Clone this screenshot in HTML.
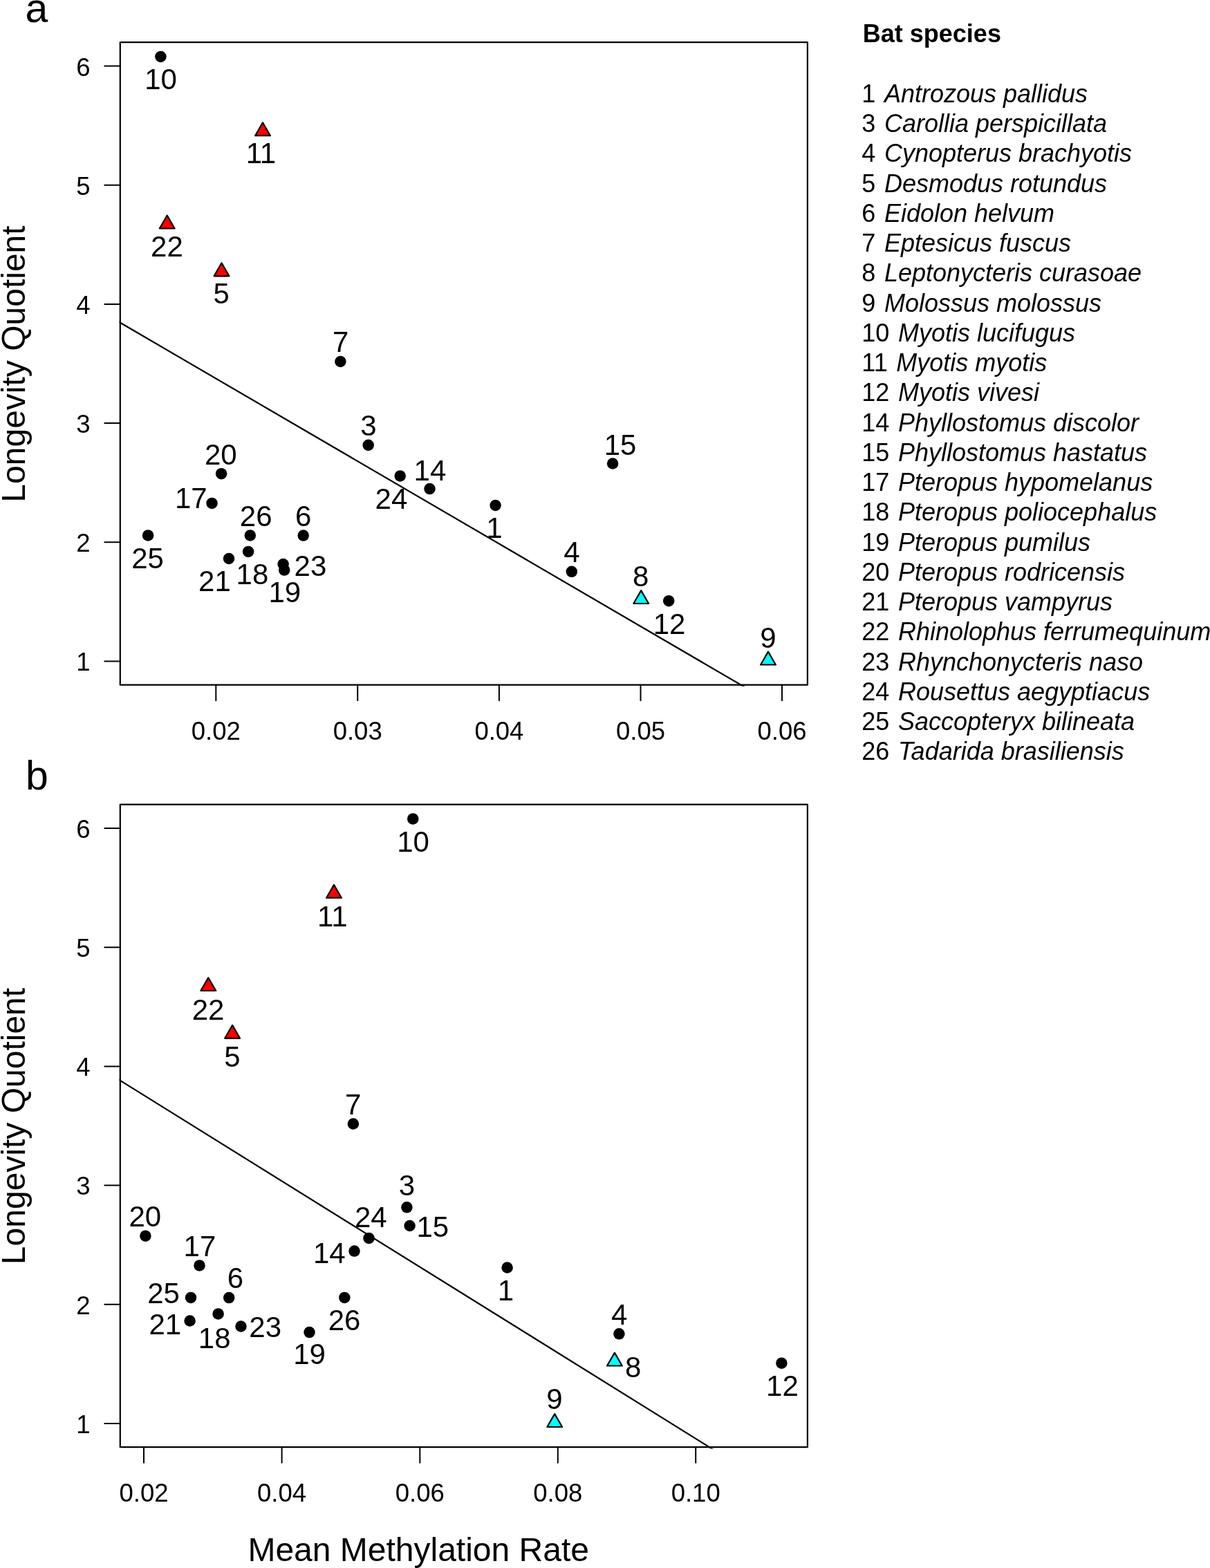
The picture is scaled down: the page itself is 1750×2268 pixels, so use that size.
<!DOCTYPE html>
<html><head><meta charset="utf-8"><title>Bat longevity vs methylation rate</title><style>html,body{margin:0;padding:0;background:#fff;}body{width:1750px;height:2268px;overflow:hidden;}svg{display:block;}</style></head><body>
<svg width="1750" height="2268" viewBox="0 0 1750 2268" font-family="'Liberation Sans', Arial, Helvetica, sans-serif" fill="#000">
<rect width="1750" height="2268" fill="#fff"/>
<clipPath id="clip0"><rect x="172.6" y="60" width="996.5" height="932.7"/></clipPath>
<line x1="168.8" y1="463.77" x2="1083.7" y2="997.7" stroke="#000" stroke-width="2.2" clip-path="url(#clip0)"/>
<rect x="173.8" y="61.2" width="994.1" height="929.5" fill="none" stroke="#000" stroke-width="2.2" stroke-linejoin="round"/>
<line x1="151.3" y1="956.4" x2="173.8" y2="956.4" stroke="#000" stroke-width="2.0" stroke-linecap="round"/>
<text x="130.6" y="970.3" text-anchor="end" font-size="36.5">1</text>
<line x1="151.3" y1="784.24" x2="173.8" y2="784.24" stroke="#000" stroke-width="2.0" stroke-linecap="round"/>
<text x="130.6" y="798.14" text-anchor="end" font-size="36.5">2</text>
<line x1="151.3" y1="612.08" x2="173.8" y2="612.08" stroke="#000" stroke-width="2.0" stroke-linecap="round"/>
<text x="130.6" y="625.98" text-anchor="end" font-size="36.5">3</text>
<line x1="151.3" y1="439.92" x2="173.8" y2="439.92" stroke="#000" stroke-width="2.0" stroke-linecap="round"/>
<text x="130.6" y="453.82" text-anchor="end" font-size="36.5">4</text>
<line x1="151.3" y1="267.76" x2="173.8" y2="267.76" stroke="#000" stroke-width="2.0" stroke-linecap="round"/>
<text x="130.6" y="281.66" text-anchor="end" font-size="36.5">5</text>
<line x1="151.3" y1="95.6" x2="173.8" y2="95.6" stroke="#000" stroke-width="2.0" stroke-linecap="round"/>
<text x="130.6" y="109.5" text-anchor="end" font-size="36.5">6</text>
<line x1="312.3" y1="990.7" x2="312.3" y2="1013.2" stroke="#000" stroke-width="2.0" stroke-linecap="round"/>
<text x="312.3" y="1069.5" text-anchor="middle" font-size="36.5">0.02</text>
<line x1="517.2" y1="990.7" x2="517.2" y2="1013.2" stroke="#000" stroke-width="2.0" stroke-linecap="round"/>
<text x="517.2" y="1069.5" text-anchor="middle" font-size="36.5">0.03</text>
<line x1="721.9" y1="990.7" x2="721.9" y2="1013.2" stroke="#000" stroke-width="2.0" stroke-linecap="round"/>
<text x="721.9" y="1069.5" text-anchor="middle" font-size="36.5">0.04</text>
<line x1="926.5" y1="990.7" x2="926.5" y2="1013.2" stroke="#000" stroke-width="2.0" stroke-linecap="round"/>
<text x="926.5" y="1069.5" text-anchor="middle" font-size="36.5">0.05</text>
<line x1="1131" y1="990.7" x2="1131" y2="1013.2" stroke="#000" stroke-width="2.0" stroke-linecap="round"/>
<text x="1131" y="1069.5" text-anchor="middle" font-size="36.5">0.06</text>
<circle cx="232.4" cy="81.9" r="8.25"/>
<polygon points="380,177.3 390.91,196.2 369.09,196.2" fill="#ff0000" stroke="#000" stroke-width="2.2" stroke-linejoin="round"/>
<polygon points="241.7,311.6 252.61,330.5 230.79,330.5" fill="#ff0000" stroke="#000" stroke-width="2.2" stroke-linejoin="round"/>
<polygon points="320.5,380.4 331.41,399.3 309.59,399.3" fill="#ff0000" stroke="#000" stroke-width="2.2" stroke-linejoin="round"/>
<circle cx="492.4" cy="523" r="8.25"/>
<circle cx="532.7" cy="643.8" r="8.25"/>
<circle cx="578.7" cy="688.4" r="8.25"/>
<circle cx="621.5" cy="707.1" r="8.25"/>
<circle cx="886.1" cy="670.5" r="8.25"/>
<circle cx="320.1" cy="685.2" r="8.25"/>
<circle cx="306.5" cy="727.9" r="8.25"/>
<circle cx="716.6" cy="731" r="8.25"/>
<circle cx="361.8" cy="774.4" r="8.25"/>
<circle cx="438.7" cy="774.6" r="8.25"/>
<circle cx="214.1" cy="774.4" r="8.25"/>
<circle cx="359.1" cy="797.9" r="8.25"/>
<circle cx="331" cy="808" r="8.25"/>
<circle cx="409.6" cy="816" r="8.25"/>
<circle cx="411.2" cy="824.6" r="8.25"/>
<circle cx="826.8" cy="826.8" r="8.25"/>
<polygon points="927.2,854.1 938.11,873 916.29,873" fill="#00ffff" stroke="#000" stroke-width="2.2" stroke-linejoin="round"/>
<circle cx="967.2" cy="869.2" r="8.25"/>
<polygon points="1111,942.6 1121.91,961.5 1100.09,961.5" fill="#00ffff" stroke="#000" stroke-width="2.2" stroke-linejoin="round"/>
<text x="232.62" y="128.8" text-anchor="middle" font-size="42.0">10</text>
<text x="377.43" y="236.2" text-anchor="middle" font-size="42.0">11</text>
<text x="241.4" y="371.1" text-anchor="middle" font-size="42.0">22</text>
<text x="320.24" y="439.2" text-anchor="middle" font-size="42.0">5</text>
<text x="492.58" y="509.3" text-anchor="middle" font-size="42.0">7</text>
<text x="532.82" y="629.8" text-anchor="middle" font-size="42.0">3</text>
<text x="565.96" y="735.5" text-anchor="middle" font-size="42.0">24</text>
<text x="621.92" y="694.6" text-anchor="middle" font-size="42.0">14</text>
<text x="714.93" y="778.1" text-anchor="middle" font-size="42.0">1</text>
<text x="897.08" y="657.7" text-anchor="middle" font-size="42.0">15</text>
<text x="319.36" y="672.2" text-anchor="middle" font-size="42.0">20</text>
<text x="276.26" y="735" text-anchor="middle" font-size="42.0">17</text>
<text x="370.17" y="761.2" text-anchor="middle" font-size="42.0">26</text>
<text x="438.66" y="761.2" text-anchor="middle" font-size="42.0">6</text>
<text x="213.53" y="822.3" text-anchor="middle" font-size="42.0">25</text>
<text x="364.91" y="844.5" text-anchor="middle" font-size="42.0">18</text>
<text x="310.47" y="854.7" text-anchor="middle" font-size="42.0">21</text>
<text x="448.97" y="832.5" text-anchor="middle" font-size="42.0">23</text>
<text x="411.8" y="871.2" text-anchor="middle" font-size="42.0">19</text>
<text x="826.93" y="812.9" text-anchor="middle" font-size="42.0">4</text>
<text x="926.7" y="847.9" text-anchor="middle" font-size="42.0">8</text>
<text x="968.06" y="916.9" text-anchor="middle" font-size="42.0">12</text>
<text x="1110.91" y="937" text-anchor="middle" font-size="42.0">9</text>
<clipPath id="clip1102"><rect x="172.6" y="1162.5" width="996.5" height="932.9"/></clipPath>
<line x1="168.8" y1="1559.76" x2="1037.57" y2="2100.4" stroke="#000" stroke-width="2.2" clip-path="url(#clip1102)"/>
<rect x="173.8" y="1163.7" width="994.1" height="929.5" fill="none" stroke="#000" stroke-width="2.2" stroke-linejoin="round"/>
<line x1="151.3" y1="2058.9" x2="173.8" y2="2058.9" stroke="#000" stroke-width="2.0" stroke-linecap="round"/>
<text x="130.6" y="2072.8" text-anchor="end" font-size="36.5">1</text>
<line x1="151.3" y1="1886.74" x2="173.8" y2="1886.74" stroke="#000" stroke-width="2.0" stroke-linecap="round"/>
<text x="130.6" y="1900.64" text-anchor="end" font-size="36.5">2</text>
<line x1="151.3" y1="1714.58" x2="173.8" y2="1714.58" stroke="#000" stroke-width="2.0" stroke-linecap="round"/>
<text x="130.6" y="1728.48" text-anchor="end" font-size="36.5">3</text>
<line x1="151.3" y1="1542.42" x2="173.8" y2="1542.42" stroke="#000" stroke-width="2.0" stroke-linecap="round"/>
<text x="130.6" y="1556.32" text-anchor="end" font-size="36.5">4</text>
<line x1="151.3" y1="1370.26" x2="173.8" y2="1370.26" stroke="#000" stroke-width="2.0" stroke-linecap="round"/>
<text x="130.6" y="1384.16" text-anchor="end" font-size="36.5">5</text>
<line x1="151.3" y1="1198.1" x2="173.8" y2="1198.1" stroke="#000" stroke-width="2.0" stroke-linecap="round"/>
<text x="130.6" y="1212" text-anchor="end" font-size="36.5">6</text>
<line x1="208" y1="2093.2" x2="208" y2="2115.7" stroke="#000" stroke-width="2.0" stroke-linecap="round"/>
<text x="208" y="2172" text-anchor="middle" font-size="36.5">0.02</text>
<line x1="407.6" y1="2093.2" x2="407.6" y2="2115.7" stroke="#000" stroke-width="2.0" stroke-linecap="round"/>
<text x="407.6" y="2172" text-anchor="middle" font-size="36.5">0.04</text>
<line x1="607.3" y1="2093.2" x2="607.3" y2="2115.7" stroke="#000" stroke-width="2.0" stroke-linecap="round"/>
<text x="607.3" y="2172" text-anchor="middle" font-size="36.5">0.06</text>
<line x1="806.8" y1="2093.2" x2="806.8" y2="2115.7" stroke="#000" stroke-width="2.0" stroke-linecap="round"/>
<text x="806.8" y="2172" text-anchor="middle" font-size="36.5">0.08</text>
<line x1="1006.2" y1="2093.2" x2="1006.2" y2="2115.7" stroke="#000" stroke-width="2.0" stroke-linecap="round"/>
<text x="1006.2" y="2172" text-anchor="middle" font-size="36.5">0.10</text>
<circle cx="597.2" cy="1184.4" r="8.25"/>
<polygon points="483,1279.8 493.91,1298.7 472.09,1298.7" fill="#ff0000" stroke="#000" stroke-width="2.2" stroke-linejoin="round"/>
<polygon points="301.3,1414.1 312.21,1433 290.39,1433" fill="#ff0000" stroke="#000" stroke-width="2.2" stroke-linejoin="round"/>
<polygon points="336.1,1482.9 347.01,1501.8 325.19,1501.8" fill="#ff0000" stroke="#000" stroke-width="2.2" stroke-linejoin="round"/>
<circle cx="510.9" cy="1625.5" r="8.25"/>
<circle cx="588.4" cy="1746.3" r="8.25"/>
<circle cx="533.5" cy="1790.9" r="8.25"/>
<circle cx="512.5" cy="1809.6" r="8.25"/>
<circle cx="592.6" cy="1773" r="8.25"/>
<circle cx="210.4" cy="1787.7" r="8.25"/>
<circle cx="288.5" cy="1830.4" r="8.25"/>
<circle cx="733.6" cy="1833.5" r="8.25"/>
<circle cx="498.3" cy="1876.9" r="8.25"/>
<circle cx="331.2" cy="1877.1" r="8.25"/>
<circle cx="276" cy="1876.9" r="8.25"/>
<circle cx="315.6" cy="1900.4" r="8.25"/>
<circle cx="274.6" cy="1910.5" r="8.25"/>
<circle cx="348.5" cy="1918.5" r="8.25"/>
<circle cx="447.5" cy="1927.1" r="8.25"/>
<circle cx="895.4" cy="1929.3" r="8.25"/>
<polygon points="888.9,1956.6 899.81,1975.5 877.99,1975.5" fill="#00ffff" stroke="#000" stroke-width="2.2" stroke-linejoin="round"/>
<circle cx="1130.4" cy="1971.7" r="8.25"/>
<polygon points="802.2,2045.1 813.11,2064 791.29,2064" fill="#00ffff" stroke="#000" stroke-width="2.2" stroke-linejoin="round"/>
<text x="597.52" y="1232.2" text-anchor="middle" font-size="42.0">10</text>
<text x="480.83" y="1339.8" text-anchor="middle" font-size="42.0">11</text>
<text x="301" y="1474.5" text-anchor="middle" font-size="42.0">22</text>
<text x="335.94" y="1543" text-anchor="middle" font-size="42.0">5</text>
<text x="510.68" y="1612" text-anchor="middle" font-size="42.0">7</text>
<text x="588.42" y="1729.1" text-anchor="middle" font-size="42.0">3</text>
<text x="625.78" y="1788.5" text-anchor="middle" font-size="42.0">15</text>
<text x="536.36" y="1775.2" text-anchor="middle" font-size="42.0">24</text>
<text x="476.32" y="1826.8" text-anchor="middle" font-size="42.0">14</text>
<text x="209.76" y="1773.8" text-anchor="middle" font-size="42.0">20</text>
<text x="288.96" y="1817" text-anchor="middle" font-size="42.0">17</text>
<text x="236.53" y="1884.5" text-anchor="middle" font-size="42.0">25</text>
<text x="340.46" y="1863" text-anchor="middle" font-size="42.0">6</text>
<text x="498.07" y="1923.5" text-anchor="middle" font-size="42.0">26</text>
<text x="310.21" y="1950.3" text-anchor="middle" font-size="42.0">18</text>
<text x="238.77" y="1930" text-anchor="middle" font-size="42.0">21</text>
<text x="383.67" y="1933.6" text-anchor="middle" font-size="42.0">23</text>
<text x="447.5" y="1973.2" text-anchor="middle" font-size="42.0">19</text>
<text x="731.53" y="1881" text-anchor="middle" font-size="42.0">1</text>
<text x="895.73" y="1916.2" text-anchor="middle" font-size="42.0">4</text>
<text x="915.6" y="1991.6" text-anchor="middle" font-size="42.0">8</text>
<text x="801.91" y="2038" text-anchor="middle" font-size="42.0">9</text>
<text x="1131.46" y="2018.8" text-anchor="middle" font-size="42.0">12</text>
<text x="36.5" y="32.3" font-size="59.0">a</text>
<text x="37.0" y="1141.5" font-size="59.0">b</text>
<text x="605.2" y="2258.3" text-anchor="middle" font-size="48.0">Mean Methylation Rate</text>
<text transform="translate(35.9 526.5) rotate(-90)" x="0" y="0" text-anchor="middle" font-size="48.0">Longevity Quotient</text>
<text transform="translate(35.9 1629) rotate(-90)" x="0" y="0" text-anchor="middle" font-size="48.0">Longevity Quotient</text>
<text x="1247.8" y="61.4" font-size="36.0" font-weight="bold">Bat species</text>
<text x="1246.3" y="147.9" font-size="36.0">1 <tspan dx="2.6" font-style="italic">Antrozous pallidus</tspan></text>
<text x="1246.3" y="191.15" font-size="36.0">3 <tspan dx="2.6" font-style="italic">Carollia perspicillata</tspan></text>
<text x="1246.3" y="234.4" font-size="36.0">4 <tspan dx="2.6" font-style="italic">Cynopterus brachyotis</tspan></text>
<text x="1246.3" y="277.65" font-size="36.0">5 <tspan dx="2.6" font-style="italic">Desmodus rotundus</tspan></text>
<text x="1246.3" y="320.9" font-size="36.0">6 <tspan dx="2.6" font-style="italic">Eidolon helvum</tspan></text>
<text x="1246.3" y="364.15" font-size="36.0">7 <tspan dx="2.6" font-style="italic">Eptesicus fuscus</tspan></text>
<text x="1246.3" y="407.4" font-size="36.0">8 <tspan dx="2.6" font-style="italic">Leptonycteris curasoae</tspan></text>
<text x="1246.3" y="450.65" font-size="36.0">9 <tspan dx="2.6" font-style="italic">Molossus molossus</tspan></text>
<text x="1246.3" y="493.9" font-size="36.0">10 <tspan dx="2.6" font-style="italic">Myotis lucifugus</tspan></text>
<text x="1246.3" y="537.15" font-size="36.0">11 <tspan dx="2.6" font-style="italic">Myotis myotis</tspan></text>
<text x="1246.3" y="580.4" font-size="36.0">12 <tspan dx="2.6" font-style="italic">Myotis vivesi</tspan></text>
<text x="1246.3" y="623.65" font-size="36.0">14 <tspan dx="2.6" font-style="italic">Phyllostomus discolor</tspan></text>
<text x="1246.3" y="666.9" font-size="36.0">15 <tspan dx="2.6" font-style="italic">Phyllostomus hastatus</tspan></text>
<text x="1246.3" y="710.15" font-size="36.0">17 <tspan dx="2.6" font-style="italic">Pteropus hypomelanus</tspan></text>
<text x="1246.3" y="753.4" font-size="36.0">18 <tspan dx="2.6" font-style="italic">Pteropus poliocephalus</tspan></text>
<text x="1246.3" y="796.65" font-size="36.0">19 <tspan dx="2.6" font-style="italic">Pteropus pumilus</tspan></text>
<text x="1246.3" y="839.9" font-size="36.0">20 <tspan dx="2.6" font-style="italic">Pteropus rodricensis</tspan></text>
<text x="1246.3" y="883.15" font-size="36.0">21 <tspan dx="2.6" font-style="italic">Pteropus vampyrus</tspan></text>
<text x="1246.3" y="926.4" font-size="36.0">22 <tspan dx="2.6" font-style="italic">Rhinolophus ferrumequinum</tspan></text>
<text x="1246.3" y="969.65" font-size="36.0">23 <tspan dx="2.6" font-style="italic">Rhynchonycteris naso</tspan></text>
<text x="1246.3" y="1012.9" font-size="36.0">24 <tspan dx="2.6" font-style="italic">Rousettus aegyptiacus</tspan></text>
<text x="1246.3" y="1056.15" font-size="36.0">25 <tspan dx="2.6" font-style="italic">Saccopteryx bilineata</tspan></text>
<text x="1246.3" y="1099.4" font-size="36.0">26 <tspan dx="2.6" font-style="italic">Tadarida brasiliensis</tspan></text>
</svg>
</body></html>
